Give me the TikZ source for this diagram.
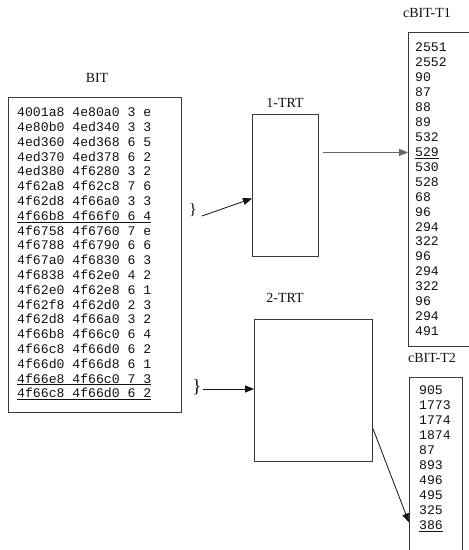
\documentclass[tikz,border=0pt]{standalone}
\usepackage{fontspec}
\setmainfont{Liberation Serif}
\setmonofont{Liberation Mono}
\usetikzlibrary{arrows.meta,positioning}
\definecolor{ink}{HTML}{111111}
\definecolor{frameink}{HTML}{3A3A3A}
\definecolor{muted}{HTML}{666666}
\tikzset{
  frame/.style={draw=frameink,line width=.9bp,inner sep=0pt,anchor=north west},
  lbl/.style={inner sep=0pt,font=\fontsize{14}{16}\selectfont,text=ink},
  rows/.style={inner sep=0pt,anchor=north west,align=left,text=ink,font=\ttfamily\fontsize{13.2}{15}\selectfont},
  brc/.style={inner sep=0pt,text=ink},
  ar/.style={-{Triangle[length=9bp,width=7bp]},draw=ink,line width=.8bp},
}

\begin{document}
\begin{tikzpicture}[x=1bp,y=1bp]
  \useasboundingbox (0,0) rectangle (469,-550);
  \clip (0,0) rectangle (469,-550);
  % ── BIT ──
  \node[frame,minimum width=173bp,minimum height=315bp] (bit) at (8,-97) {};
  \node[lbl] (bitlbl) at (97,-78) {BIT};
  \node[rows,font=\ttfamily\fontsize{13.2}{14.85}\selectfont] (bitrows) at (17,-107.7) {%
    4001a8 4e80a0 3 e\\4e80b0 4ed340 3 3\\4ed360 4ed368 6 5\\4ed370 4ed378 6 2\\
    4ed380 4f6280 3 2\\4f62a8 4f62c8 7 6\\4f62d8 4f66a0 3 3\\\underline{4f66b8 4f66f0 6 4}\\
    4f6758 4f6760 7 e\\4f6788 4f6790 6 6\\4f67a0 4f6830 6 3\\4f6838 4f62e0 4 2\\
    4f62e0 4f62e8 6 1\\4f62f8 4f62d0 2 3\\4f62d8 4f66a0 3 2\\4f66b8 4f66c0 6 4\\
    4f66c8 4f66d0 6 2\\4f66d0 4f66d8 6 1\\\underline{4f66e8 4f66c0 7 3}\\\underline{4f66c8 4f66d0 6 2}};
  \node[brc,font=\fontsize{16}{18}\selectfont] (bracea) at (193,-210) {\}};
  \node[brc,font=\fontsize{19}{21}\selectfont] (braceb) at (197,-387) {\}};
  % ── TRTs ──
  \node[frame,minimum width=66bp,minimum height=142bp] (trt1) at (252,-114) {};
  \node[lbl] (trt1lbl) at (285,-103) {1-TRT};
  \node[frame,minimum width=118bp,minimum height=142bp] (trt2) at (254,-319) {};
  \node[lbl] (trt2lbl) at (285,-298) {2-TRT};
  % ── cBITs ──
  \node[frame,minimum width=75bp,minimum height=314bp] (cbit1) at (408,-32) {};
  \node[lbl] (cbit1lbl) at (427,-13) {cBIT-T1};
  \node[rows] (cbit1rows) at (415,-42.7) {%
    2551\\2552\\90\\87\\88\\89\\532\\\underline{529}\\530\\528\\
    68\\96\\294\\322\\96\\294\\322\\96\\294\\491};
  \node[frame,minimum width=53bp,minimum height=200bp] (cbit2) at (409,-377) {};
  \node[lbl] (cbit2lbl) at (432,-358) {cBIT-T2};
  \node[rows] (cbit2rows) at (419,-385.7) {%
    905\\1773\\1774\\1874\\87\\893\\496\\495\\325\\\underline{386}};
  % ── arrows ──
  \draw[ar] ([xshift=5bp,yshift=-6bp]bracea.east) -- ([yshift=-13bp]trt1.west);
  \coordinate (t1out) at ([xshift=4bp,yshift=33bp]trt1.east);
  \draw[ar,draw=muted] (t1out) -- (t1out -| cbit1.west);
  \draw[ar] ([xshift=1bp,yshift=-2bp]braceb.east) -- ([yshift=-2bp]braceb.east -| trt2.west);
  \draw[ar] ([yshift=-38bp]trt2.east) -- ([yshift=-45bp]cbit2.west);
\end{tikzpicture}
\end{document}
